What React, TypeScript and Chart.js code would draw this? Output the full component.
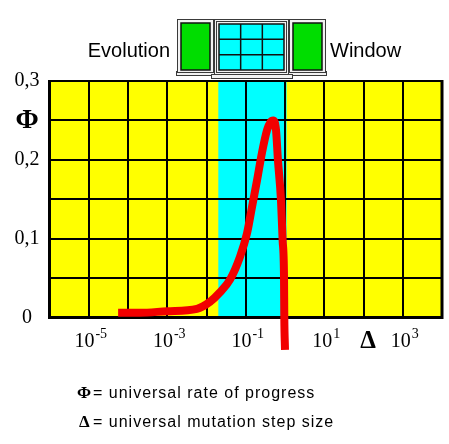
import React, { useEffect, useRef } from "react";
import { Chart, registerables } from "chart.js";

Chart.register(...registerables);

// ---- data ----
const deltaValues = [
  5.6e-5, 2.0e-4, 1.0e-3, 5.7e-3, 0.0123, 0.0221, 0.0397, 0.0713, 0.108, 0.144,
  0.194, 0.259, 0.35, 0.43, 0.5, 0.59, 0.66, 0.79, 0.87, 0.944, 0.96, 1.0,
];
const phiValues = [
  0.006, 0.006, 0.008, 0.011, 0.02, 0.032, 0.048, 0.077, 0.107, 0.14,
  0.174, 0.209, 0.238, 0.248, 0.25, 0.238, 0.2, 0.149, 0.098, 0.051, 0.0, -0.041,
];
const xDecades = [1e-6, 1e-5, 1e-4, 1e-3, 1e-2, 1e-1, 1, 10, 100, 1e3, 1e4];
const xLabelExponents = [-5, -3, -1, 1, 3];
const xSymbolValue = 100;
const xSymbol = "Δ";
const yTickValues = [0, 0.05, 0.1, 0.15, 0.2, 0.25, 0.3];
const yTickLabels = ["0", "", "0,1", "", "0,2", "Φ", "0,3"];
const windowBand = [0.02, 1.1];
const titleLeft = "Evolution";
const titleRight = "Window";
const legendSymbols = ["Φ", "Δ"];
const legendTexts = ["= universal rate of progress", "= universal mutation step size"];

const SERIF = "'Liberation Serif', 'Times New Roman', serif";
const SANS = "'Liberation Sans', Arial, sans-serif";

const backgroundPlugin = {
  id: "bgPlugin",
  beforeDraw(chart: any) {
    const { ctx, chartArea: a } = chart;
    const x = chart.scales.x;
    ctx.save();
    ctx.fillStyle = "#ffffff";
    ctx.fillRect(0, 0, chart.width, chart.height);
    ctx.fillStyle = "#ffff00";
    ctx.fillRect(a.left, a.top, a.right - a.left, a.bottom - a.top);
    const x0 = x.getPixelForValue(windowBand[0]);
    const x1 = x.getPixelForValue(windowBand[1]);
    ctx.fillStyle = "#00ffff";
    ctx.fillRect(x0, a.top, x1 - x0, a.bottom - a.top);
    ctx.restore();
  },
};

const framePlugin = {
  id: "framePlugin",
  beforeDatasetsDraw(chart: any) {
    const { ctx, chartArea: a } = chart;
    ctx.save();
    ctx.strokeStyle = "#000";
    ctx.lineWidth = 3;
    ctx.beginPath();
    ctx.moveTo(a.left, a.top - 1);
    ctx.lineTo(a.left, a.bottom);
    ctx.lineTo(a.right, a.bottom);
    ctx.lineTo(a.right, a.top - 1);
    ctx.stroke();
    ctx.lineWidth = 2;
    ctx.beginPath();
    ctx.moveTo(a.left, a.top);
    ctx.lineTo(a.right, a.top);
    ctx.stroke();
    ctx.restore();
  },
};

function drawWindow(ctx: CanvasRenderingContext2D) {
  const frame = "#f2f2f2";
  const edge = "#3a3a3a";
  const green = "#00dd00";
  const box = (x0: number, y0: number, x1: number, y1: number, fill: string, stroke: string, lw: number) => {
    ctx.fillStyle = fill;
    ctx.fillRect(x0, y0, x1 - x0, y1 - y0);
    ctx.strokeStyle = stroke;
    ctx.lineWidth = lw;
    ctx.strokeRect(x0, y0, x1 - x0, y1 - y0);
  };
  // sill and ledge
  box(176.5, 71.5, 326.5, 75.5, frame, edge, 1);
  box(211.5, 74.5, 292.5, 78.5, frame, edge, 1);
  // left shutter
  box(177.5, 19.5, 213.5, 72.5, frame, edge, 1);
  box(181, 23, 210, 70, green, "#111", 1.5);
  // right shutter
  box(289.5, 19.5, 325.5, 72.5, frame, edge, 1);
  box(293, 23, 322, 70, green, "#111", 1.5);
  // center window
  box(214.5, 19.5, 288.5, 74.5, frame, edge, 1);
  box(216.5, 21.5, 286.5, 72.5, frame, edge, 1);
  box(219, 24, 284, 70, "#00ffff", "#111", 1.5);
  ctx.strokeStyle = "#111";
  ctx.lineWidth = 1.5;
  ctx.beginPath();
  for (let i = 1; i < 3; i++) {
    const gx = 219 + ((284 - 219) * i) / 3;
    ctx.moveTo(gx, 24);
    ctx.lineTo(gx, 70);
    const gy = 24 + ((70 - 24) * i) / 3;
    ctx.moveTo(219, gy);
    ctx.lineTo(284, gy);
  }
  ctx.stroke();
}

const decorPlugin = {
  id: "decorPlugin",
  afterDraw(chart: any) {
    const ctx: CanvasRenderingContext2D = chart.ctx;
    const x = chart.scales.x;
    ctx.save();
    drawWindow(ctx);

    // title words
    ctx.fillStyle = "#000";
    ctx.textBaseline = "alphabetic";
    ctx.font = `20px ${SANS}`;
    ctx.textAlign = "right";
    ctx.fillText(titleLeft, 170, 57);
    ctx.textAlign = "left";
    ctx.fillText(titleRight, 330, 57);

    // x tick labels 10^n
    const baseY = 347;
    xLabelExponents.forEach((e) => {
      const px = x.getPixelForValue(Math.pow(10, e)) + 2;
      const exp = e < 0 ? `-${-e}` : `${e}`;
      ctx.font = `20px ${SERIF}`;
      const w1 = ctx.measureText("10").width;
      ctx.font = `14px ${SERIF}`;
      const w2 = ctx.measureText(exp).width;
      const start = px - (w1 + 1 + w2) / 2;
      ctx.textAlign = "left";
      ctx.font = `20px ${SERIF}`;
      ctx.fillText("10", start, baseY);
      ctx.font = `14px ${SERIF}`;
      ctx.fillText(exp, start + w1 + 1, baseY - 9);
    });
    // axis symbol
    ctx.textAlign = "center";
    ctx.font = `bold 25px ${SERIF}`;
    ctx.fillText(xSymbol, x.getPixelForValue(xSymbolValue) + 4.5, 348);

    // legend lines
    const rows = [398, 427];
    legendSymbols.forEach((s, i) => {
      ctx.textAlign = "left";
      ctx.font = `bold 17px ${SERIF}`;
      ctx.fillText(s, i === 0 ? 77 : 79, rows[i]);
      ctx.font = `16px ${SANS}`;
      (ctx as any).letterSpacing = "1px";
      ctx.fillText(legendTexts[i], 93, rows[i]);
      (ctx as any).letterSpacing = "0px";
    });
    ctx.restore();
  },
};

export default function App() {
  const canvasRef = useRef<HTMLCanvasElement | null>(null);

  useEffect(() => {
    const canvas = canvasRef.current;
    if (!canvas) return;
    const chart = new Chart(canvas, {
      type: "line",
      data: {
        datasets: [
          {
            data: deltaValues.map((d, i) => ({ x: d, y: phiValues[i] })),
            borderColor: "#f20000",
            borderWidth: 8,
            pointRadius: 0,
            fill: false,
            cubicInterpolationMode: "monotone",
            clip: false,
            borderCapStyle: "butt",
            borderJoinStyle: "round",
          } as any,
        ],
      },
      options: {
        animation: false,
        responsive: false,
        events: [],
        layout: { padding: { left: 0, top: 81, right: 7, bottom: 126.5 } },
        plugins: { legend: { display: false }, tooltip: { enabled: false } },
        scales: {
          x: {
            type: "logarithmic",
            min: xDecades[0],
            max: xDecades[xDecades.length - 1],
            afterBuildTicks: (axis: any) => {
              axis.ticks = xDecades.map((v) => ({ value: v }));
            },
            afterFit: (axis: any) => {
              axis.height = 0;
            },
            ticks: { display: false },
            grid: { color: "#000", lineWidth: 2, drawTicks: false },
            border: { display: false },
          },
          y: {
            type: "linear",
            min: yTickValues[0],
            max: yTickValues[yTickValues.length - 1],
            afterBuildTicks: (axis: any) => {
              axis.ticks = yTickValues.map((v) => ({ value: v }));
            },
            afterFit: (axis: any) => {
              axis.width = 49.5;
            },
            ticks: {
              color: "#000",
              padding: 10,
              crossAlign: "center",
              callback: (_v: any, i: number) => yTickLabels[i],
              font: (c: any) =>
                c.tick && Math.abs(c.tick.value - 0.25) < 1e-9
                  ? { family: SERIF, size: 28, weight: "bold" }
                  : { family: SERIF, size: 20 },
            },
            grid: { color: "#000", lineWidth: 2, drawTicks: false },
            border: { display: false },
          },
        },
      } as any,
      plugins: [backgroundPlugin, framePlugin, decorPlugin],
    });
    return () => chart.destroy();
  }, []);

  return (
    <div style={{ position: "absolute", left: 0, top: 0, width: 449, height: 444, background: "#fff" }}>
      <canvas ref={canvasRef} width={449} height={444} style={{ display: "block" }} />
    </div>
  );
}
